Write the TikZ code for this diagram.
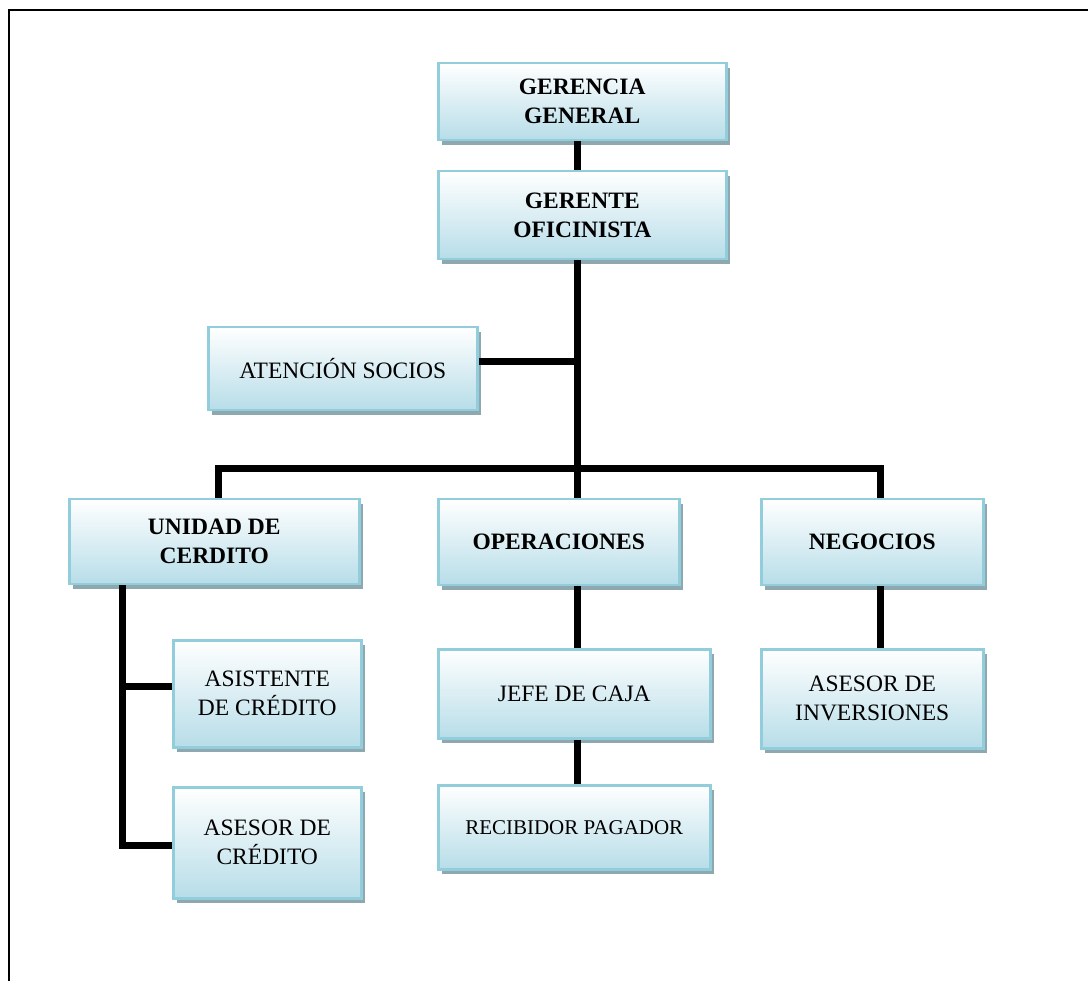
\documentclass[tikz,border=0pt]{standalone}
\usepackage{fontspec}
\setmainfont{Liberation Serif}
\usetikzlibrary{shadows}
\definecolor{boxblue}{RGB}{183,221,232}
\definecolor{boxborder}{RGB}{146,205,220}
\definecolor{shadowgray}{RGB}{143,167,175}
\tikzset{
  orgbox/.style={rectangle, draw=boxborder, line width=2.5pt,
    top color=white, bottom color=boxblue, align=center, inner sep=0pt,
    anchor=north west, font=\fontsize{23.5}{29}\selectfont,
    drop shadow={shadow xshift=4pt, shadow yshift=-5pt, fill=shadowgray, opacity=1}},
  boldbox/.style={orgbox, font=\fontsize{23.5}{29}\selectfont\bfseries},
  link/.style={line width=7pt, black, line join=miter},
  frameline/.style={line width=2pt, black}
}
\begin{document}
\begin{tikzpicture}[x=1pt, y=-1pt]
\useasboundingbox (0,0) rectangle (1088,981);
\coordinate (f1) at (9,981);
\coordinate (f2) at (9,10);
\coordinate (f3) at (1088,10);
\draw[frameline] (f1) -- (f2) -- (f3);

\node[boldbox, minimum width=288pt, minimum height=77pt] (gg) at (437,62) {GERENCIA\\GENERAL};
\node[boldbox, minimum width=288pt, minimum height=88pt] (go) at (437,170) {GERENTE\\OFICINISTA};
\node[orgbox, minimum width=269pt, minimum height=83pt] (at) at (207,326) {ATENCIÓN SOCIOS};
\node[boldbox, minimum width=290pt, minimum height=85pt] (uc) at (68,498) {UNIDAD DE\\CERDITO};
\node[boldbox, minimum width=241pt, minimum height=86pt] (op) at (437,498) {OPERACIONES};
\node[boldbox, minimum width=222pt, minimum height=86pt] (ne) at (760,498) {NEGOCIOS};
\node[orgbox, minimum width=188pt, minimum height=107pt] (as) at (172,639) {ASISTENTE\\DE CRÉDITO};
\node[orgbox, minimum width=188pt, minimum height=111pt] (ac) at (172,786) {ASESOR DE\\CRÉDITO};
\node[orgbox, minimum width=272pt, minimum height=89pt] (jc) at (437,648) {JEFE DE CAJA};
\node[orgbox, minimum width=272pt, minimum height=84pt, font=\fontsize{21}{26}\selectfont] (rp) at (437,784) {RECIBIDOR PAGADOR};
\node[orgbox, minimum width=222pt, minimum height=99pt] (ai) at (760,648) {ASESOR DE\\INVERSIONES};

\coordinate (tx) at (577,0);
\coordinate (bl) at (218.5,468.5);
\coordinate (br) at (880,468.5);
\coordinate (cl) at (122.5,0);

\draw[link] (gg.south -| tx) -- (go.north -| tx);
\draw[link] (go.south -| tx) -- (op.north -| tx);
\draw[link] ([yshift=7pt]at.east) -- ([yshift=7pt]at.east -| tx);
\draw[link] (uc.north -| bl) -- (bl) -- (br) -- (ne.north -| br);
\draw[link] (op.south -| tx) -- (jc.north -| tx);
\draw[link] (jc.south -| tx) -- (rp.north -| tx);
\draw[link] (ne.south -| br) -- (ai.north -| br);
\draw[link] (uc.south -| cl) -- ([yshift=-3pt]cl |- ac.west) -- ([yshift=-3pt]ac.west);
\draw[link] ([yshift=7pt]cl |- as.west) -- ([yshift=7pt]as.west);
\end{tikzpicture}
\end{document}
